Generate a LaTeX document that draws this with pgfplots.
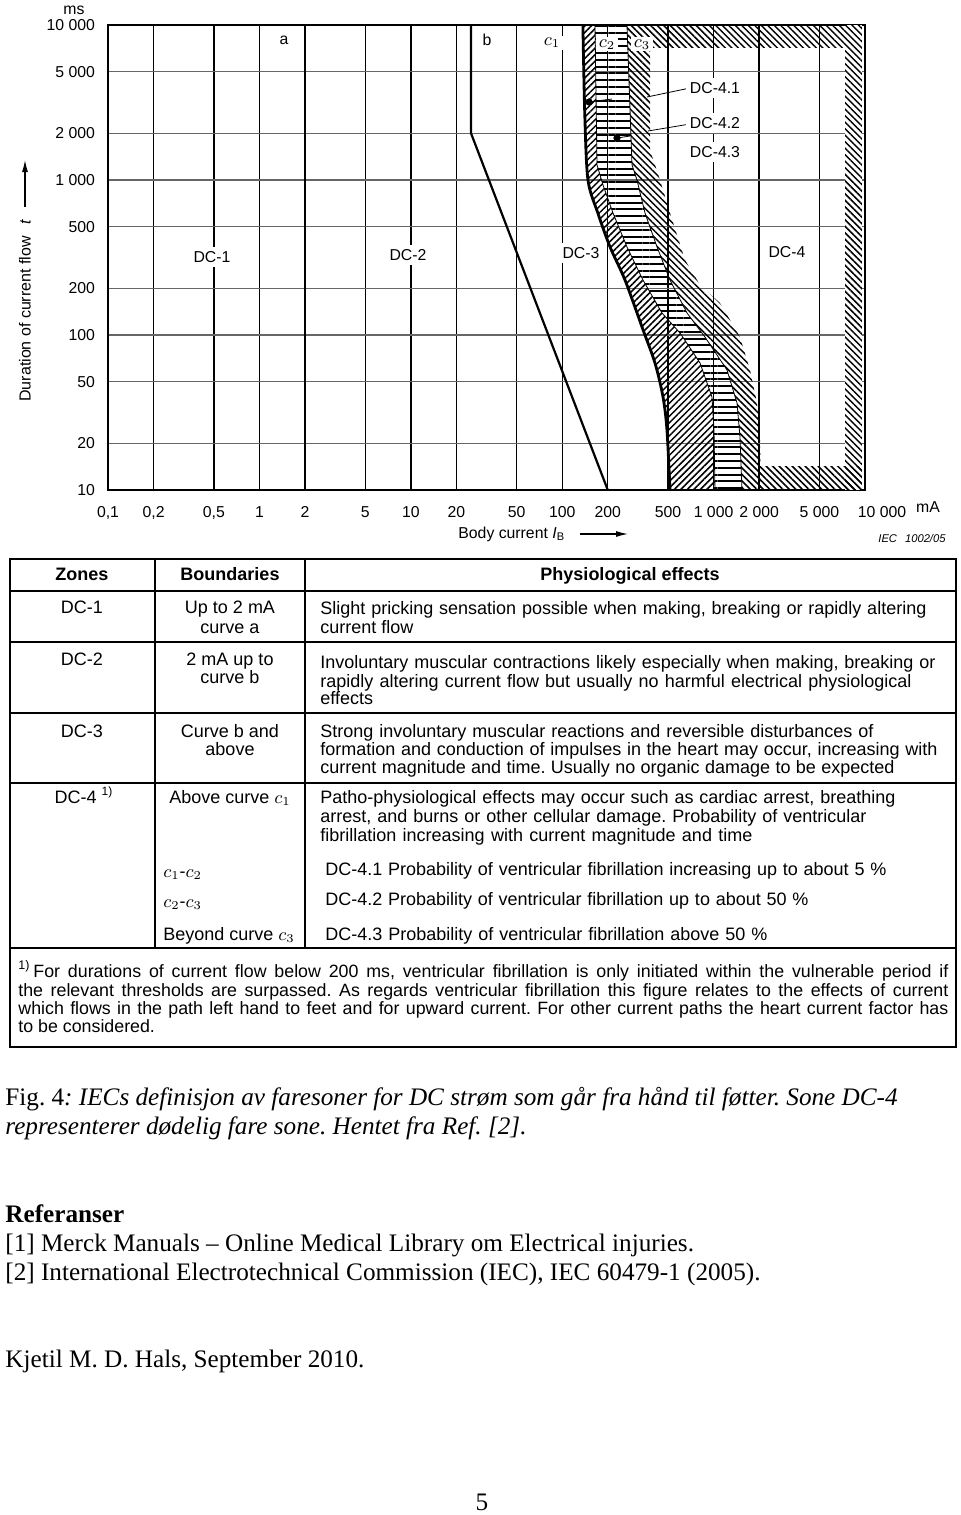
\documentclass[border=0pt]{standalone}
\usepackage{fontspec}
\setmainfont{Liberation Sans}
\newfontfamily\tnr{Liberation Serif}
\usepackage{pgfplots}
\pgfplotsset{compat=1.18}
\usetikzlibrary{patterns.meta,arrows.meta}
\frenchspacing
\newcommand\chartfont{\fontsize{7.9}{9}\selectfont}
\newcommand\tabfont{\fontsize{9}{11}\selectfont}
\newcommand\fnfont{\fontsize{8.9}{11}\selectfont}
\newcommand\capfont{\tnr\fontsize{12.6}{15}\selectfont}
\tikzset{
 hatchA/.style={pattern={Lines[angle=45,distance=2.3pt,line width=0.75pt]}},
 hatchB/.style={pattern={Lines[angle=-45,distance=2.3pt,line width=0.75pt]}},
 barsH/.style={pattern={Lines[angle=0,distance=3.4pt,line width=1pt]}},
}
\newcommand\TL[3]{\node[anchor=base west,inner sep=0pt,font=\tabfont] at (#1,#2) {#3};}
\newcommand\TC[3]{\node[anchor=base,inner sep=0pt,font=\tabfont] at (#1,#2) {#3};}
\begin{document}
\begin{tikzpicture}
\path[use as bounding box] (0,0) rectangle (480pt,-757.5pt);
\begin{axis}[
 at={(54pt,-245pt)}, anchor=south west,
 scale only axis, width=378.5pt, height=232.5pt,
 xmode=log, ymode=log,
 xmin=0.1, xmax=10000, ymin=10, ymax=10000,
 xtick={0.1,0.2,0.5,1,2,5,10,20,50,100,200,500,1000,2000,5000,10000},
 xticklabels={{0,1},{0,2},{0,5},1,2,5,10,20,50,100,200,500,{1 000},{2 000},{5 000},{\hspace*{17pt}10 000}},
 ytick={10,20,50,100,200,500,1000,2000,5000,10000},
 yticklabels={10,20,50,100,200,500,{1 000},{2 000},{5 000},{10 000}},
 minor xtick={}, minor ytick={},
 major tick length=0pt,
 grid=major,
 major x grid style={black, line width=0.7pt},
 major y grid style={black!60, line width=0.6pt},
 axis line style={line width=0.8pt},
 ticklabel style={font=\chartfont},
 xticklabel style={yshift=-4pt, text height=6pt, text depth=1.5pt},
 yticklabel style={xshift=-3pt},
]
% zone DC-4.1 (c1 - c2)
\addplot[hatchA, draw=none] coordinates {(137,10000)(141,2630)(148,1000)(172,612)(207,370)(260,226)(342,108)(410,66)(463,40)(492,24.4)(515,10)
 (1021,10)(1006,24.4)(976,39.8)(813.6,66)(600,103)(456.2,138.7)(341.8,226)(267.9,370)(216.6,612)(186,928.6)(169.8,1250)(164.7,10000)} -- cycle;
% zone DC-4.2 (c2 - c3)
\addplot[barsH, draw=none] coordinates {(164.7,10000)(169.8,1250)(186,928.6)(216.6,612)(267.9,370)(341.8,226)(456.2,138.7)(600,103)(813.6,66)(976,39.8)(1006,24.4)(1021,10)
 (1540,10)(1494,22)(1428,36.4)(1226,59.5)(877,97)(667.5,138.7)(515.2,226)(422.9,370)(352.4,612)(311.9,1000)(289.1,1250)(267.9,10000)} -- cycle;
% zone DC-4.3 (beyond c3)
\addplot[hatchB, draw=none] coordinates {(267.9,10000)(289.1,1250)(311.9,1000)(352.4,612)(422.9,370)(515.2,226)(667.5,138.7)(877,97)(1226,59.5)(1428,36.4)(1494,22)(1540,10)
 (2056,10)(2025,22)(1935,36.4)(1739,59.5)(1494,97)(1102,160.9)(813.6,210.2)(647.5,304.8)(515.2,612)(442.6,1000)(380.2,1561)(380.2,10000)} -- cycle;
% hatched frame of DC-4
\addplot[hatchB, draw=none] coordinates {(380.2,7210)(9550,7210)(9550,10000)(380.2,10000)} -- cycle;
\addplot[fill=white, draw=none] coordinates {(7380,10)(9550,10)(9550,10000)(7380,10000)} -- cycle;
\addplot[hatchB, draw=none] coordinates {(7380,10)(9550,10)(9550,10000)(7380,10000)} -- cycle;
\addplot[hatchB, draw=none] coordinates {(2025,10)(9550,10)(9550,14.1)(2025,14.1)} -- cycle;
% boundaries c2, c3
\addplot[line width=0.4pt] coordinates {(164.7,10000)(169.8,1250)(186,928.6)(216.6,612)(267.9,370)(341.8,226)(456.2,138.7)(600,103)(813.6,66)(976,39.8)(1006,24.4)(1021,10)};
\addplot[line width=0.4pt] coordinates {(267.9,10000)(289.1,1250)(311.9,1000)(352.4,612)(422.9,370)(515.2,226)(667.5,138.7)(877,97)(1226,59.5)(1428,36.4)(1494,22)(1540,10)};
% curve c1
\addplot[line width=1.4pt, smooth] coordinates {(137,10000)(141,2630)(148,1000)(172,612)(207,370)(260,226)(342,108)(410,66)(463,40)(492,24.4)(515,10)};
% curve a and b
\addplot[line width=1.1pt] coordinates {(2,10)(2,10000)};
\addplot[line width=1.1pt] coordinates {(25,10000)(25,2000)(200,10)};
% leaders and dots
\addplot[line width=0.4pt] coordinates {(698.6,3923)(363.2,3431)};
\addplot[line width=0.4pt] coordinates {(698.6,2298)(368.7,2071)};
\addplot[line width=0.4pt] coordinates {(150.3,3186)(213.3,3331)};
\addplot[line width=0.4pt] coordinates {(230.1,1866)(280.4,1922)};
\addplot[only marks, mark=*, mark size=1.6pt] coordinates {(150.3,3186)(230.1,1866)};
% labels
\node[font=\chartfont] at (axis cs:1.453,8000) {a};
\node[font=\chartfont] at (axis cs:31.86,8000) {b};
\node[font=\fontsize{9}{10}\selectfont, fill=white, inner sep=1.2pt] at (axis cs:85.6,7654) {$c_1$};
\node[font=\fontsize{9}{10}\selectfont, fill=white, inner sep=1.2pt] at (axis cs:197.6,7517) {$c_2$};
\node[font=\fontsize{9}{10}\selectfont, fill=white, inner sep=1.2pt] at (axis cs:336.6,7517) {$c_3$};
\node[font=\chartfont, fill=white, inner sep=2pt] at (axis cs:0.486,318.6) {DC-1};
\node[font=\chartfont, fill=white, inner sep=2pt] at (axis cs:9.58,328) {DC-2};
\node[font=\chartfont, fill=white, inner sep=2pt] at (axis cs:133.1,338) {DC-3};
\node[font=\chartfont, fill=white, inner sep=2pt] at (axis cs:3053,343) {DC-4};
\node[font=\chartfont, fill=white, inner sep=2pt] at (axis cs:1021,3923) {DC-4.1};
\node[font=\chartfont, fill=white, inner sep=2pt] at (axis cs:1021,2332) {DC-4.2};
\node[font=\chartfont, fill=white, inner sep=2pt] at (axis cs:1021,1516) {DC-4.3};
\end{axis}
\begin{scope}[x=0.5pt,y=-0.5pt]
% chart texts
\node[font=\chartfont] at (74,10) {ms};
\node[font=\chartfont] at (928,507) {mA};
\node[font=\chartfont, anchor=west, inner sep=0pt] at (458,534) {Body current \textit{I}\textsubscript{B}};
\draw[line width=0.6pt, -{Latex[length=6pt,width=3pt]}] (580,534) -- (628,534);
\node[font=\fontsize{5.6}{7}\selectfont\itshape, anchor=west, inner sep=0pt] at (878,538) {IEC\hspace{4pt}1002/05};
\node[font=\fontsize{8}{9}\selectfont, rotate=90, anchor=west, inner sep=0pt] at (25,402) {Duration of current flow\hspace{6pt}\textit{t}};
\draw[line width=0.6pt, -{Latex[length=6pt,width=3pt]}] (25,207) -- (25,160);
% table
\draw[line width=0.8pt] (10,559) rectangle (956,1047);
\foreach \yy in {591,642,713,783,948} {\draw[line width=0.7pt] (10,\yy) -- (956,\yy);}
\draw[line width=0.7pt] (155,559) -- (155,948) (305,559) -- (305,948);
\node[anchor=base,inner sep=0pt,font=\tabfont\bfseries] at (82,580) {Zones};
\node[anchor=base,inner sep=0pt,font=\tabfont\bfseries] at (230,580) {Boundaries};
\node[anchor=base,inner sep=0pt,font=\tabfont\bfseries] at (630,580) {Physiological effects};
\TC{82}{613}{DC-1}
\TC{230}{613}{Up to 2 mA}
\TC{230}{633}{curve a}
\TL{320}{614}{\makebox[303pt][s]{Slight pricking sensation possible when making, breaking or rapidly altering}}
\TL{320}{633}{current flow}
\TC{82}{665}{DC-2}
\TC{230}{665}{2 mA up to}
\TC{230}{683}{curve b}
\TL{320}{668}{\makebox[307.5pt][s]{Involuntary muscular contractions likely especially when making, breaking or}}
\TL{320}{687}{\makebox[295.5pt][s]{rapidly altering current flow but usually no harmful electrical physiological}}
\TL{320}{704}{effects}
\TC{82}{737}{DC-3}
\TC{230}{737}{Curve b and}
\TC{230}{755}{above}
\TL{320}{737}{\makebox[276.5pt][s]{Strong involuntary muscular reactions and reversible disturbances of}}
\TL{320}{755}{\makebox[308.5pt][s]{formation and conduction of impulses in the heart may occur, increasing with}}
\TL{320}{773}{\makebox[287pt][s]{current magnitude and time. Usually no organic damage to be expected}}
\TC{84}{803}{DC-4 \textsuperscript{1)}}
\TC{230}{803}{Above curve $c_1$}
\TL{320}{803}{\makebox[287.5pt][s]{Patho-physiological effects may occur such as cardiac arrest, breathing}}
\TL{320}{822}{\makebox[273pt][s]{arrest, and burns or other cellular damage. Probability of ventricular}}
\TL{320}{841}{\makebox[216pt][s]{fibrillation increasing with current magnitude and time}}
\TL{163}{877}{$c_1$-$c_2$}
\TL{325}{875}{\makebox[280.5pt][s]{DC-4.1 Probability of ventricular fibrillation increasing up to about 5 \%}}
\TL{163}{907}{$c_2$-$c_3$}
\TL{325}{905}{\makebox[241.5pt][s]{DC-4.2 Probability of ventricular fibrillation up to about 50 \%}}
\TL{163}{940}{Beyond curve $c_3$}
\TL{325}{940}{\makebox[221pt][s]{DC-4.3 Probability of ventricular fibrillation above 50 \%}}
\node[anchor=base west,inner sep=0pt,font=\fnfont] at (18,977) {\makebox[465pt][s]{\textsuperscript{1)}\,For durations of current flow below 200 ms, ventricular fibrillation is only initiated within the vulnerable period if}};
\node[anchor=base west,inner sep=0pt,font=\fnfont] at (18,996) {\makebox[465pt][s]{the relevant thresholds are surpassed. As regards ventricular fibrillation this figure relates to the effects of current}};
\node[anchor=base west,inner sep=0pt,font=\fnfont] at (18,1014) {\makebox[465pt][s]{which flows in the path left hand to feet and for upward current. For other current paths the heart current factor has}};
\node[anchor=base west,inner sep=0pt,font=\fnfont] at (18,1032) {to be considered.};
% caption and references
\node[anchor=base west,inner sep=0pt,font=\capfont] at (5,1105) {Fig. 4\textit{: IECs definisjon av faresoner for DC strøm som går fra hånd til føtter. Sone DC-4}};
\node[anchor=base west,inner sep=0pt,font=\capfont] at (5,1134) {\textit{representerer dødelig fare sone. Hentet fra Ref. [2].}};
\node[anchor=base west,inner sep=0pt,font=\capfont\bfseries] at (5,1222) {Referanser};
\node[anchor=base west,inner sep=0pt,font=\capfont] at (5,1251) {[1] Merck Manuals – Online Medical Library om Electrical injuries.};
\node[anchor=base west,inner sep=0pt,font=\capfont] at (5,1280) {[2] International Electrotechnical Commission (IEC), IEC 60479-1 (2005).};
\node[anchor=base west,inner sep=0pt,font=\capfont] at (5,1367) {Kjetil M. D. Hals, September 2010.};
\node[anchor=base,inner sep=0pt,font=\capfont] at (482,1510) {5};
\end{scope}
\end{tikzpicture}
\end{document}
